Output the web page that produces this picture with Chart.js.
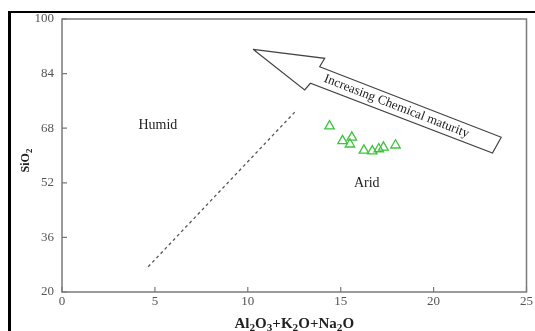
<!DOCTYPE html>
<html>
<head>
<meta charset="utf-8">
<script src="https://cdn.jsdelivr.net/npm/chart.js@4"></script>
<style>
  html, body { margin: 0; padding: 0; background: #fff; }
  #wrap { position: relative; width: 535px; height: 331px; }
</style>
</head>
<body>
<div id="wrap"><canvas id="chart"></canvas></div>
<script>
// sample points (Al2O3+K2O+Na2O vs SiO2)
const sampleX = [14.4, 15.1, 15.6, 15.5, 16.25, 16.7, 17.05, 17.3, 17.95];
const sampleY = [68.6, 64.3, 65.3, 63.3, 61.5, 61.3, 61.9, 62.4, 63.0];

// dashed humid/arid boundary
const boundaryX = [4.64, 12.63];
const boundaryY = [27.4, 73.3];

// "increasing chemical maturity" arrow outline
const arrowX = [10.28, 14.14, 13.87, 23.64, 23.17, 13.37, 13.06, 10.28];
const arrowY = [91.12, 88.48, 86.02, 65.33, 60.73, 81.16, 79.19, 91.12];

const xTicks = [0, 5, 10, 15, 20, 25];
const yTicks = [20, 36, 52, 68, 84, 100];

const zoneLabels = ["Humid", "Arid"];
const zoneX = [5.16, 16.4];
const zoneY = [68.9, 51.9];

const arrowText = "Increasing Chemical maturity";
const arrowTextX = 18.0;
const arrowTextY = 74.4;

const serif = "'Liberation Serif', 'Times New Roman', serif";

const toPts = (xs, ys) => xs.map((x, i) => ({ x: x, y: ys[i] }));

// draws text with subscript digits
function subText(ctx, parts, x, y, size) {
  let w = 0;
  parts.forEach(p => {
    ctx.font = "bold " + (p.sub ? size * 0.75 : size) + "px " + serif;
    w += ctx.measureText(p.t).width;
  });
  let cx = x - w / 2;
  parts.forEach(p => {
    ctx.font = "bold " + (p.sub ? size * 0.75 : size) + "px " + serif;
    ctx.fillText(p.t, cx, p.sub ? y + size * 0.28 : y);
    cx += ctx.measureText(p.t).width;
  });
}

const extras = {
  id: "extras",
  beforeDraw(chart) {
    const ctx = chart.ctx;
    ctx.save();
    ctx.fillStyle = "#000";
    ctx.fillRect(8, 11, 3, 320);
    ctx.fillRect(8, 11, 527, 2);
    ctx.restore();
  },
  afterDraw(chart) {
    const ctx = chart.ctx;
    const a = chart.chartArea;
    const xs = chart.scales.x, ys = chart.scales.y;
    ctx.save();
    // box
    ctx.strokeStyle = "#7a7a7a";
    ctx.lineWidth = 1.5;
    ctx.strokeRect(a.left, a.top, a.right - a.left, a.bottom - a.top);
    // inward ticks
    ctx.lineWidth = 1.2;
    ctx.beginPath();
    xTicks.forEach(v => {
      const px = xs.getPixelForValue(v);
      ctx.moveTo(px, a.bottom);
      ctx.lineTo(px, a.bottom - 5);
    });
    yTicks.forEach(v => {
      const py = ys.getPixelForValue(v);
      ctx.moveTo(a.left, py);
      ctx.lineTo(a.left + 5, py);
    });
    ctx.stroke();

    // zone labels
    ctx.fillStyle = "#222";
    ctx.font = "14px " + serif;
    ctx.textAlign = "center";
    ctx.textBaseline = "middle";
    zoneLabels.forEach((t, i) => {
      ctx.fillText(t, xs.getPixelForValue(zoneX[i]), ys.getPixelForValue(zoneY[i]));
    });

    // arrow text, rotated along the shaft
    const x0 = xs.getPixelForValue(arrowX[2]), y0 = ys.getPixelForValue(arrowY[2]);
    const x1 = xs.getPixelForValue(arrowX[3]), y1 = ys.getPixelForValue(arrowY[3]);
    const ang = Math.atan2(y1 - y0, x1 - x0);
    ctx.save();
    ctx.translate(xs.getPixelForValue(arrowTextX), ys.getPixelForValue(arrowTextY));
    ctx.rotate(ang);
    ctx.font = "13px " + serif;
    ctx.fillText(arrowText, 0, 0);
    ctx.restore();

    // axis titles
    ctx.fillStyle = "#222";
    ctx.textAlign = "left";
    ctx.textBaseline = "middle";
    subText(ctx, [{ t: "Al" }, { t: "2", sub: true }, { t: "O" }, { t: "3", sub: true },
      { t: "+K" }, { t: "2", sub: true }, { t: "O+Na" }, { t: "2", sub: true }, { t: "O" }],
      (a.left + a.right) / 2, 324, 15);
    ctx.save();
    ctx.translate(26, (a.top + a.bottom) / 2 + 5);
    ctx.rotate(-Math.PI / 2);
    subText(ctx, [{ t: "SiO" }, { t: "2", sub: true }], 0, 0, 12);
    ctx.restore();
    ctx.restore();
  }
};

new Chart(document.getElementById("chart"), {
  type: "scatter",
  data: {
    datasets: [
      {
        label: "Samples",
        data: toPts(sampleX, sampleY),
        pointStyle: "triangle",
        pointRadius: 5.5,
        borderColor: "#3dc43d",
        backgroundColor: "rgba(0,0,0,0)",
        borderWidth: 1.3
      },
      {
        label: "Boundary",
        data: toPts(boundaryX, boundaryY),
        showLine: true,
        borderColor: "#555",
        borderWidth: 1.3,
        borderDash: [3, 3],
        pointRadius: 0
      },
      {
        label: "Arrow",
        data: toPts(arrowX, arrowY),
        showLine: true,
        borderColor: "#444",
        borderWidth: 1.2,
        pointRadius: 0,
        tension: 0
      }
    ]
  },
  options: {
    responsive: true,
    maintainAspectRatio: false,
    animation: false,
    layout: { padding: { top: 19, right: 8, left: 0, bottom: 0 } },
    plugins: {
      legend: { display: false },
      tooltip: { enabled: false }
    },
    scales: {
      x: {
        type: "linear",
        min: 0,
        max: 25,
        afterBuildTicks: s => { s.ticks = xTicks.map(v => ({ value: v })); },
        grid: { display: false, drawTicks: false },
        border: { display: false },
        ticks: { color: "#555", padding: 2, font: { family: serif, size: 13 } },
        afterFit: s => { s.height = 39; }
      },
      y: {
        type: "linear",
        min: 20,
        max: 100,
        afterBuildTicks: s => { s.ticks = yTicks.map(v => ({ value: v })); },
        grid: { display: false, drawTicks: false },
        border: { display: false },
        ticks: { color: "#555", padding: 8, font: { family: serif, size: 13 } },
        afterFit: s => { s.width = 62; }
      }
    }
  },
  plugins: [extras]
});
</script>
</body>
</html>
